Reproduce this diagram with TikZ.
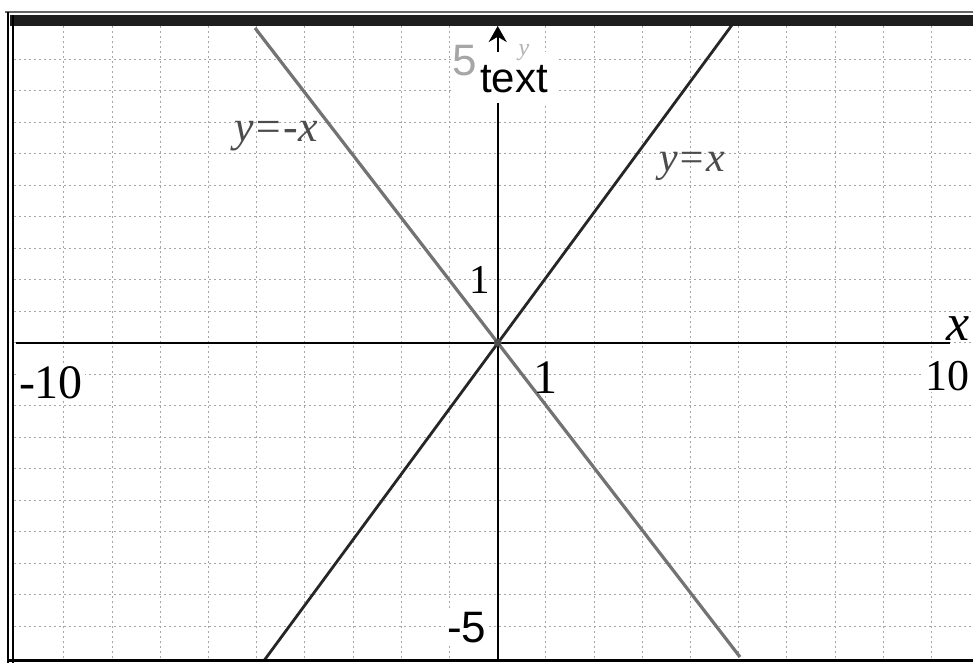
\documentclass[tikz,border=0pt]{standalone}
\usepackage{fontspec}
\setmainfont{Liberation Serif}
\newfontfamily\sansf{Liberation Sans}
\usetikzlibrary{arrows.meta}
\begin{document}
\begin{tikzpicture}[x=0.5pt,y=-0.5pt,
  gridline/.style={black!35, line width=0.45pt, dash pattern=on 1pt off 1.5pt},
  axisline/.style={black, line width=1.2pt},
  framebar/.style={black, line width=1pt},
  lbl/.style={inner sep=0pt, outer sep=0pt},
  seriflbl/.style={lbl, text=black},
  sanslbl/.style={lbl, text=black},
  curvelbl/.style={lbl, text=black!70, font=\itshape\fontsize{21}{21}\selectfont}]
\useasboundingbox (0,0) rectangle (973,664);
\fill[white] (0,0) rectangle (973,664);
% grid and lines
\begin{scope}
\clip (14,26) rectangle (973,659);
\foreach \j in {-9,...,9} {
  \draw[gridline] ({497.7+48.2*\j},26) -- ({497.7+48.2*\j},659);
  \draw[gridline] (14,{342.7+31.5*\j}) -- (973,{342.7+31.5*\j});
}
\coordinate (na) at (255,28);
\coordinate (nb) at (740,657);
\coordinate (pa) at (263,662);
\coordinate (pb) at (732,25);
\draw[line width=1.6pt, black!55] (na) -- (nb);
\draw[line width=1.4pt, black!85] (pa) -- (pb);
\end{scope}
% axes
\coordinate (xl) at (16,342.7);
\coordinate (xr) at (950,342.7);
\draw[axisline] (xl) -- (xr);
\coordinate (yb) at (497.7,659);
\coordinate (yt) at (497.7,26);
\draw[axisline,-{Stealth[length=8pt,width=9pt]}] (yb) -- (yt);
\fill[black!70] (497.7,342.7) circle (2pt);
% frame
\draw[black!60, line width=0.7pt] (5,12) -- (973,12);
\fill[black!88] (10,15) rectangle (973,26);
\draw[framebar] (8,12) -- (8,663);
\draw[framebar] (13,15) -- (13,663);
\draw[black, line width=1.8pt] (8,660.5) -- (973,660.5);
% white patch behind the y-axis labels
\fill[white] (452,52) rectangle (556,103);
% labels
\node[sanslbl, anchor=base, font=\sansf\fontsize{21}{21}\selectfont] (ylab) at (514,92) {text};
\node[sanslbl, anchor=base, text=black!35,
      font=\sansf\fontsize{22}{22}\selectfont] (ymax) at (465,75) {5};
\node[lbl, anchor=base, text=black!30, font=\itshape\fontsize{12}{12}\selectfont] (yname) at (524,55) {y};
\node[sanslbl, fill=white, inner sep=1pt, anchor=base west,
      font=\sansf\fontsize{22}{22}\selectfont] (ymin) at (445,642) {-5};
\node[seriflbl, fill=white, inner sep=1pt, anchor=base west,
      font=\fontsize{24}{24}\selectfont] (xmin) at (17,398) {-10};
\node[seriflbl, fill=white, inner sep=1pt, anchor=base east,
      font=\fontsize{22}{22}\selectfont] (xmax) at (971,390) {10};
\node[seriflbl, anchor=base, font=\fontsize{24}{24}\selectfont] (xone) at (545,393) {1};
\node[seriflbl, anchor=base, font=\fontsize{20.5}{20.5}\selectfont] (yone) at (480,293) {1};
\node[seriflbl, fill=white, inner sep=1pt, anchor=base, font=\itshape\fontsize{26}{26}\selectfont] (xname) at (958,340) {x};
\node[curvelbl] (lpos) at (692,166) {y=x};
\node[curvelbl, font=\itshape\fontsize{22}{22}\selectfont] (lneg) at (276,136) {y=-x};
\end{tikzpicture}
\end{document}
